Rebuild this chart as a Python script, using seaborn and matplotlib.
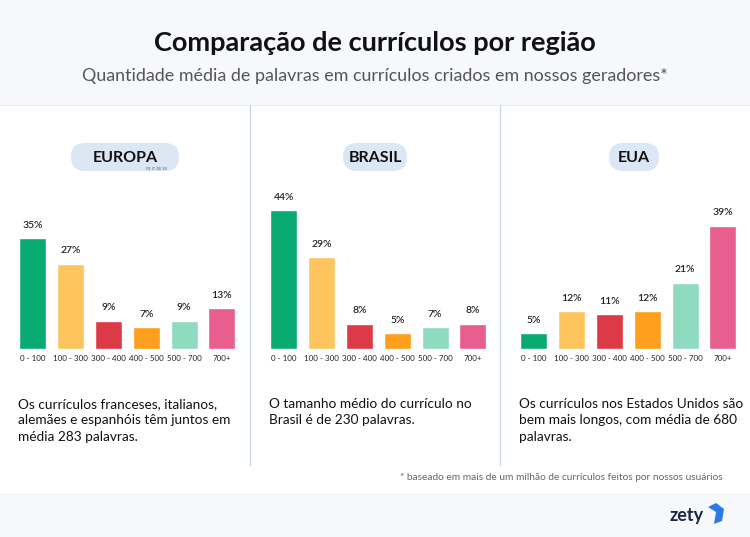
import numpy as np
import pandas as pd
import seaborn as sns
import matplotlib.pyplot as plt
from matplotlib.patches import FancyBboxPatch, Rectangle, Polygon

# data
faixas = ["0 - 100", "100 - 300", "300 - 400", "400 - 500", "500 - 700", "700+"]
europa = [35, 27, 9, 7, 9, 13]
brasil = [44, 29, 8, 5, 7, 8]
eua = [5, 12, 11, 12, 21, 39]
regioes = ["EUROPA", "BRASIL", "EUA"]
textos = [
    "Os currículos franceses, italianos,\nalemães e espanhóis têm juntos em\nmédia 283 palavras.",
    "O tamanho médio do currículo no\nBrasil é de 230 palavras.",
    "Os currículos nos Estados Unidos são\nbem mais longos, com média de 680\npalavras.",
]
cores = ["#0aab72", "#fec45e", "#db3a46", "#fe9f1d", "#8edbbf", "#e85e8e"]

sns.set_style("white")
plt.rcParams["font.family"] = ["Lato", "DejaVu Sans"]

W, H = 750, 537
fig = plt.figure(figsize=(7.5, 5.37), dpi=100)
fig.patch.set_facecolor("white")


def px(x, y):
    return x / W, 1 - y / H


# header and footer bands
fig.patches.append(Rectangle((0, 1 - 105 / H), 1, 105 / H, transform=fig.transFigure,
                             facecolor="#f6f8fc", edgecolor="none", zorder=0))
fig.patches.append(Rectangle((0, 0), 1, 44 / H, transform=fig.transFigure,
                             facecolor="#f6f8fc", edgecolor="none", zorder=0))
fig.lines.append(plt.Line2D([0, 1], [1 - 105 / H] * 2, transform=fig.transFigure,
                            color="#e6ebf3", lw=0.8))
for xl in [250, 500]:
    fig.lines.append(plt.Line2D([xl / W] * 2, [1 - 105 / H, 1 - 465 / H],
                                transform=fig.transFigure, color="#c9d5e8", lw=1.0))

fig.text(*px(375, 43), "Comparação de currículos por região", ha="center", va="center",
         fontsize=19.5, fontweight="bold", color="#111111")
fig.text(*px(375, 76), "Quantidade média de palavras em currículos criados em nossos geradores*",
         ha="center", va="center", fontsize=12.9, color="#555555")

lefts = [14, 265, 515]
pills = [(125, 108), (375, 64), (634, 50)]
step = 37.8
base_y = 349
top_y = base_y - 50 * 3.16

for i, (vals, nome, txt) in enumerate(zip([europa, brasil, eua], regioes, textos)):
    l = lefts[i]
    ax = fig.add_axes([l / W, 1 - base_y / H, 6 * step / W, (base_y - top_y) / H])
    df = pd.DataFrame({"faixa": faixas, "pct": vals})
    sns.barplot(data=df, x="faixa", y="pct", hue="faixa", palette=cores, legend=False,
                width=0.71, ax=ax, saturation=1)
    ax.set_xlim(-0.5, 5.5)
    ax.set_ylim(0, 50)
    ax.set_xlabel("")
    ax.set_ylabel("")
    ax.set_yticks([])
    ax.tick_params(axis="x", length=0, labelsize=5.8, pad=4, colors="#222222")
    sns.despine(ax=ax, left=True, bottom=True)
    ax.patch.set_alpha(0)
    for c in ax.containers:
        ax.bar_label(c, labels=[f"{int(v)}%" for v in c.datavalues], padding=6,
                     fontsize=7.5, color="#222222", fontweight="semibold")

    cx, w = pills[i]
    pill = FancyBboxPatch(((cx - w / 2) / W, 1 - 171 / H), w / W, 28 / H,
                          boxstyle="round,pad=0,rounding_size=0.0187",
                          transform=fig.transFigure, facecolor="#dbe7f5", edgecolor="none",
                          mutation_aspect=W / H)
    fig.patches.append(pill)
    fig.text(*px(cx, 158), nome, ha="center", va="center", fontsize=11.5,
             fontweight="bold", color="#111111")
    if i == 0:
        fig.text(*px(156, 168), "FR, IT, DE, ES", ha="center", va="center",
                 fontsize=2.5, color="#555555")

    fig.text(*px(l + 4, 398), txt, ha="left", va="top", fontsize=9.8,
             color="#111111", linespacing=1.45)

fig.text(*px(400, 478), "* baseado em mais de um milhão de currículos feitos por nossos usuários",
         ha="left", va="center", fontsize=7.3, color="#666666")
fig.text(*px(670, 515), "zety", ha="left", va="center", fontsize=13,
         fontweight="bold", color="#1c2541")
fig.patches.append(Polygon([px(708, 507), px(716, 503), px(724, 509), px(722, 521),
                            px(714, 524), px(716, 512)], closed=True,
                           transform=fig.transFigure, facecolor="#2c7be5", edgecolor="none"))

fig.savefig("out.png", dpi=100)
